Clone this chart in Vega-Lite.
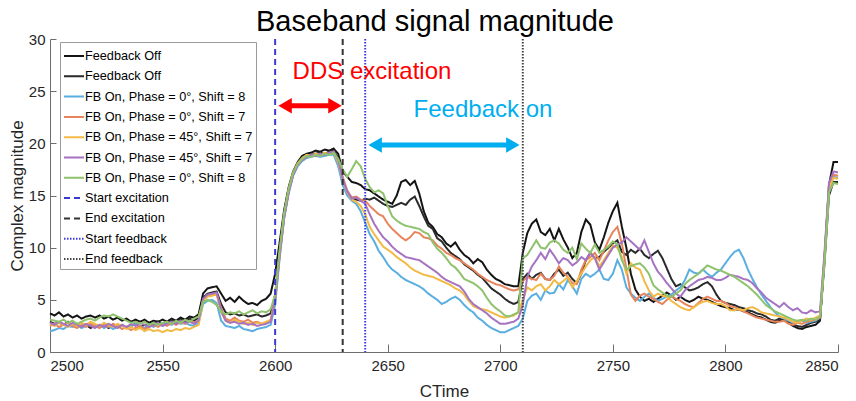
{
  "$schema": "https://vega.github.io/schema/vega-lite/v6.json",
  "width": 788,
  "height": 313,
  "autosize": {"type": "none"},
  "padding": {"left": 50, "top": 39, "right": 18, "bottom": 49},
  "background": "white",
  "title": {"text": "Baseband signal magnitude", "font": "Liberation Sans", "fontSize": 29, "fontWeight": "normal", "color": "#000000", "offset": -5, "dx": -9},
  "config": {
    "view": {"stroke": null},
    "axis": {"grid": false, "labelFont": "Liberation Sans", "titleFont": "Liberation Sans", "labelFontSize": 15, "titleFontSize": 17, "titleFontWeight": "normal", "labelColor": "#262626", "titleColor": "#262626", "domainColor": "#6e6e6e", "tickColor": "#6e6e6e"}
  },
  "datasets": {
    "names": [
      {"key": "k1", "series": "Feedback Off #1"},
      {"key": "k2", "series": "Feedback Off #2"},
      {"key": "b", "series": "FB On, Phase = 0°, Shift = 8 #1"},
      {"key": "o", "series": "FB On, Phase = 0°, Shift = 7"},
      {"key": "y", "series": "FB On, Phase = 45°, Shift = 7 #1"},
      {"key": "p", "series": "FB On, Phase = 45°, Shift = 7 #2"},
      {"key": "g", "series": "FB On, Phase = 0°, Shift = 8 #2"}
    ],
    "markers": [
      {"t": 2600, "series": "Start excitation"},
      {"t": 2630, "series": "End excitation"},
      {"t": 2640, "series": "Start feedback"},
      {"t": 2710, "series": "End feedback"}
    ],
    "curves": [
      {"t":2500,"k1":3.7,"k2":2.9,"b":2.0,"o":2.5,"y":2.7,"p":2.8,"g":3.1},
      {"t":2502,"k1":3.5,"k2":2.7,"b":2.1,"o":2.7,"y":2.5,"p":2.6,"g":3.0},
      {"t":2504,"k1":3.8,"k2":2.8,"b":2.3,"o":2.4,"y":2.8,"p":2.9,"g":2.9},
      {"t":2506,"k1":3.4,"k2":2.6,"b":2.2,"o":2.6,"y":2.6,"p":2.7,"g":3.1},
      {"t":2508,"k1":3.6,"k2":2.9,"b":2.5,"o":2.8,"y":2.4,"p":2.5,"g":2.8},
      {"t":2510,"k1":3.3,"k2":2.5,"b":2.4,"o":2.5,"y":2.7,"p":2.8,"g":3.0},
      {"t":2512,"k1":3.5,"k2":2.7,"b":2.6,"o":2.3,"y":2.5,"p":2.6,"g":2.7},
      {"t":2514,"k1":3.2,"k2":2.4,"b":2.3,"o":2.6,"y":2.8,"p":2.4,"g":2.9},
      {"t":2516,"k1":3.4,"k2":2.6,"b":2.5,"o":2.4,"y":2.6,"p":2.7,"g":3.1},
      {"t":2518,"k1":3.5,"k2":2.3,"b":2.7,"o":2.7,"y":2.9,"p":2.5,"g":3.2},
      {"t":2520,"k1":3.3,"k2":2.5,"b":2.4,"o":2.5,"y":2.7,"p":2.3,"g":3.0},
      {"t":2522,"k1":3.5,"k2":2.4,"b":2.6,"o":2.3,"y":2.5,"p":2.6,"g":3.3},
      {"t":2524,"k1":3.2,"k2":2.6,"b":2.3,"o":2.6,"y":2.8,"p":2.4,"g":3.5},
      {"t":2526,"k1":3.4,"k2":2.3,"b":2.5,"o":2.4,"y":2.6,"p":2.7,"g":3.4},
      {"t":2528,"k1":3.1,"k2":2.5,"b":2.2,"o":2.7,"y":2.4,"p":2.5,"g":3.6},
      {"t":2530,"k1":3.3,"k2":2.4,"b":2.4,"o":2.5,"y":2.7,"p":2.3,"g":3.4},
      {"t":2532,"k1":3.0,"k2":2.6,"b":2.6,"o":2.2,"y":2.5,"p":2.6,"g":3.2},
      {"t":2534,"k1":3.2,"k2":2.3,"b":2.3,"o":2.4,"y":2.2,"p":2.4,"g":3.0},
      {"t":2536,"k1":2.9,"k2":2.5,"b":2.5,"o":2.1,"y":2.4,"p":2.7,"g":2.8},
      {"t":2538,"k1":3.1,"k2":2.7,"b":2.7,"o":2.3,"y":2.1,"p":2.5,"g":2.9},
      {"t":2540,"k1":2.9,"k2":2.4,"b":2.5,"o":2.5,"y":2.3,"p":2.8,"g":2.7},
      {"t":2542,"k1":3.1,"k2":2.6,"b":2.3,"o":2.2,"y":2.0,"p":2.6,"g":2.9},
      {"t":2544,"k1":2.8,"k2":2.5,"b":2.6,"o":2.4,"y":2.2,"p":2.4,"g":2.6},
      {"t":2546,"k1":3.0,"k2":2.7,"b":2.4,"o":2.6,"y":2.0,"p":2.6,"g":2.8},
      {"t":2548,"k1":2.9,"k2":2.9,"b":2.7,"o":2.4,"y":2.1,"p":2.8,"g":2.6},
      {"t":2550,"k1":3.1,"k2":2.6,"b":2.5,"o":2.7,"y":1.9,"p":2.5,"g":2.8},
      {"t":2552,"k1":2.9,"k2":2.8,"b":2.8,"o":2.5,"y":2.1,"p":2.7,"g":2.9},
      {"t":2554,"k1":3.2,"k2":3.0,"b":2.6,"o":2.8,"y":2.0,"p":2.9,"g":2.7},
      {"t":2556,"k1":3.0,"k2":2.8,"b":2.9,"o":2.6,"y":2.2,"p":2.7,"g":3.0},
      {"t":2558,"k1":3.3,"k2":3.1,"b":2.7,"o":2.9,"y":2.1,"p":3.0,"g":2.8},
      {"t":2560,"k1":3.1,"k2":2.9,"b":2.8,"o":2.7,"y":2.3,"p":2.8,"g":3.1},
      {"t":2562,"k1":3.4,"k2":3.2,"b":2.6,"o":3.0,"y":2.2,"p":2.9,"g":2.9},
      {"t":2564,"k1":3.3,"k2":3.0,"b":2.5,"o":2.8,"y":2.4,"p":2.7,"g":3.2},
      {"t":2566,"k1":3.6,"k2":3.3,"b":2.8,"o":3.0,"y":2.6,"p":3.0,"g":3.4},
      {"t":2568,"k1":5.6,"k2":5.2,"b":4.6,"o":5.0,"y":4.9,"p":5.1,"g":4.8},
      {"t":2570,"k1":6.1,"k2":5.6,"b":4.9,"o":5.4,"y":5.3,"p":5.5,"g":5.0},
      {"t":2572,"k1":6.2,"k2":5.7,"b":5.0,"o":5.5,"y":5.4,"p":5.6,"g":4.8},
      {"t":2574,"k1":6.3,"k2":5.8,"b":4.7,"o":5.6,"y":5.5,"p":5.7,"g":4.5},
      {"t":2576,"k1":5.6,"k2":4.6,"b":3.0,"o":4.2,"y":3.8,"p":4.0,"g":3.9},
      {"t":2578,"k1":4.9,"k2":3.8,"b":2.5,"o":3.2,"y":3.0,"p":3.0,"g":3.6},
      {"t":2580,"k1":5.2,"k2":3.6,"b":2.4,"o":3.0,"y":2.8,"p":2.8,"g":3.8},
      {"t":2582,"k1":4.8,"k2":3.7,"b":2.3,"o":3.3,"y":3.1,"p":2.9,"g":3.7},
      {"t":2584,"k1":5.3,"k2":3.5,"b":2.5,"o":3.0,"y":2.9,"p":2.7,"g":3.9},
      {"t":2586,"k1":4.9,"k2":3.6,"b":2.2,"o":2.9,"y":2.7,"p":2.8,"g":3.6},
      {"t":2588,"k1":4.6,"k2":3.4,"b":2.1,"o":3.1,"y":2.8,"p":2.6,"g":3.8},
      {"t":2590,"k1":4.7,"k2":3.5,"b":2.0,"o":2.8,"y":2.6,"p":2.7,"g":4.0},
      {"t":2592,"k1":4.5,"k2":3.6,"b":2.2,"o":2.9,"y":2.8,"p":2.5,"g":3.7},
      {"t":2594,"k1":4.9,"k2":3.4,"b":2.3,"o":2.7,"y":2.7,"p":2.6,"g":3.9},
      {"t":2596,"k1":5.1,"k2":3.5,"b":2.4,"o":2.8,"y":2.9,"p":2.7,"g":3.8},
      {"t":2598,"k1":5.6,"k2":3.7,"b":2.6,"o":3.0,"y":3.1,"p":2.9,"g":4.1},
      {"t":2600,"k1":7.5,"k2":5.5,"b":4.5,"o":5.0,"y":5.0,"p":5.0,"g":5.5},
      {"t":2602,"k1":10.5,"k2":9.5,"b":9.0,"o":9.3,"y":9.5,"p":9.2,"g":9.8},
      {"t":2604,"k1":13.6,"k2":13.0,"b":12.8,"o":13.0,"y":13.2,"p":12.9,"g":13.3},
      {"t":2606,"k1":15.8,"k2":15.4,"b":15.2,"o":15.4,"y":15.6,"p":15.3,"g":15.6},
      {"t":2608,"k1":17.3,"k2":17.0,"b":16.9,"o":17.1,"y":17.2,"p":17.0,"g":17.2},
      {"t":2610,"k1":18.2,"k2":18.0,"b":17.8,"o":18.0,"y":18.1,"p":17.9,"g":18.0},
      {"t":2612,"k1":18.8,"k2":18.5,"b":18.3,"o":18.5,"y":18.6,"p":18.4,"g":18.5},
      {"t":2614,"k1":19.0,"k2":18.8,"b":18.6,"o":18.7,"y":18.9,"p":18.7,"g":18.8},
      {"t":2616,"k1":19.1,"k2":18.9,"b":18.7,"o":18.9,"y":18.8,"p":18.9,"g":18.7},
      {"t":2618,"k1":19.3,"k2":19.0,"b":18.8,"o":18.8,"y":19.0,"p":18.8,"g":18.9},
      {"t":2620,"k1":19.2,"k2":19.1,"b":18.7,"o":19.0,"y":18.9,"p":19.0,"g":18.8},
      {"t":2622,"k1":19.4,"k2":19.0,"b":18.8,"o":18.9,"y":19.1,"p":18.9,"g":19.0},
      {"t":2624,"k1":19.3,"k2":19.2,"b":18.9,"o":19.1,"y":19.0,"p":19.1,"g":18.9},
      {"t":2626,"k1":19.5,"k2":19.3,"b":18.9,"o":19.2,"y":19.1,"p":19.2,"g":19.1},
      {"t":2628,"k1":19.0,"k2":18.6,"b":17.8,"o":18.3,"y":18.2,"p":18.4,"g":18.5},
      {"t":2630,"k1":17.3,"k2":16.5,"b":16.0,"o":16.8,"y":16.5,"p":16.6,"g":17.5},
      {"t":2632,"k1":16.8,"k2":15.2,"b":15.0,"o":15.5,"y":15.3,"p":15.4,"g":16.8},
      {"t":2634,"k1":16.3,"k2":14.8,"b":14.5,"o":14.8,"y":14.6,"p":14.7,"g":17.5},
      {"t":2636,"k1":16.2,"k2":14.6,"b":14.2,"o":14.9,"y":14.4,"p":14.8,"g":18.3},
      {"t":2638,"k1":16.0,"k2":14.5,"b":13.5,"o":14.6,"y":14.0,"p":14.5,"g":17.8},
      {"t":2640,"k1":15.6,"k2":14.7,"b":12.4,"o":14.5,"y":13.2,"p":14.2,"g":16.6},
      {"t":2642,"k1":15.5,"k2":14.6,"b":11.3,"o":14.0,"y":12.0,"p":13.2,"g":15.8},
      {"t":2644,"k1":15.2,"k2":14.8,"b":10.6,"o":13.6,"y":11.3,"p":12.3,"g":15.3},
      {"t":2646,"k1":14.9,"k2":14.5,"b":9.7,"o":13.2,"y":10.7,"p":11.6,"g":15.5},
      {"t":2648,"k1":14.6,"k2":14.2,"b":9.1,"o":13.0,"y":10.1,"p":11.0,"g":15.2},
      {"t":2650,"k1":14.4,"k2":14.0,"b":8.4,"o":12.3,"y":9.8,"p":10.6,"g":14.0},
      {"t":2652,"k1":14.2,"k2":13.9,"b":7.9,"o":11.8,"y":9.5,"p":10.1,"g":13.0},
      {"t":2654,"k1":15.0,"k2":14.1,"b":7.6,"o":11.4,"y":9.1,"p":9.7,"g":12.6},
      {"t":2656,"k1":16.3,"k2":14.3,"b":7.2,"o":11.0,"y":8.8,"p":9.4,"g":12.3},
      {"t":2658,"k1":16.5,"k2":14.1,"b":6.9,"o":10.7,"y":8.5,"p":9.1,"g":12.1},
      {"t":2660,"k1":16.0,"k2":14.6,"b":6.7,"o":11.0,"y":8.1,"p":9.0,"g":12.0},
      {"t":2662,"k1":16.4,"k2":14.9,"b":6.5,"o":11.5,"y":7.8,"p":8.9,"g":11.9},
      {"t":2664,"k1":15.2,"k2":14.0,"b":6.3,"o":11.4,"y":7.6,"p":8.8,"g":11.8},
      {"t":2666,"k1":13.5,"k2":13.0,"b":6.0,"o":11.0,"y":7.4,"p":8.5,"g":11.5},
      {"t":2668,"k1":12.4,"k2":12.1,"b":5.6,"o":10.9,"y":7.3,"p":8.2,"g":11.3},
      {"t":2670,"k1":12.0,"k2":11.8,"b":5.3,"o":10.7,"y":7.2,"p":7.9,"g":10.5},
      {"t":2672,"k1":11.3,"k2":10.9,"b":5.0,"o":10.2,"y":7.0,"p":7.6,"g":9.9},
      {"t":2674,"k1":11.0,"k2":10.6,"b":4.6,"o":9.9,"y":6.8,"p":7.2,"g":9.5},
      {"t":2676,"k1":10.4,"k2":10.0,"b":4.8,"o":9.5,"y":6.6,"p":6.9,"g":9.0},
      {"t":2678,"k1":10.1,"k2":9.5,"b":5.1,"o":9.3,"y":6.4,"p":6.7,"g":8.4},
      {"t":2680,"k1":10.5,"k2":9.2,"b":5.3,"o":9.0,"y":6.1,"p":6.5,"g":8.1},
      {"t":2682,"k1":9.8,"k2":8.9,"b":5.0,"o":8.8,"y":5.9,"p":6.3,"g":7.6},
      {"t":2684,"k1":9.3,"k2":8.4,"b":4.5,"o":8.5,"y":5.5,"p":5.8,"g":7.0},
      {"t":2686,"k1":9.0,"k2":8.1,"b":4.1,"o":8.2,"y":4.9,"p":5.1,"g":6.8},
      {"t":2688,"k1":8.5,"k2":7.8,"b":3.8,"o":7.9,"y":4.4,"p":4.6,"g":6.6},
      {"t":2690,"k1":8.9,"k2":7.4,"b":3.3,"o":7.5,"y":4.2,"p":4.3,"g":6.3},
      {"t":2692,"k1":8.6,"k2":7.1,"b":3.0,"o":7.2,"y":4.1,"p":4.0,"g":5.9},
      {"t":2694,"k1":7.9,"k2":6.6,"b":2.6,"o":6.9,"y":4.0,"p":3.7,"g":5.2},
      {"t":2696,"k1":7.4,"k2":6.1,"b":2.3,"o":6.7,"y":3.8,"p":3.3,"g":4.6},
      {"t":2698,"k1":7.0,"k2":5.8,"b":2.1,"o":6.5,"y":3.6,"p":3.0,"g":4.2},
      {"t":2700,"k1":6.8,"k2":5.5,"b":1.9,"o":6.4,"y":3.4,"p":2.7,"g":3.9},
      {"t":2702,"k1":6.5,"k2":5.1,"b":1.9,"o":6.2,"y":3.3,"p":2.7,"g":3.5},
      {"t":2704,"k1":6.4,"k2":4.8,"b":2.1,"o":6.0,"y":3.4,"p":2.8,"g":3.4},
      {"t":2706,"k1":6.3,"k2":4.6,"b":2.3,"o":5.9,"y":3.5,"p":2.9,"g":3.6},
      {"t":2708,"k1":6.3,"k2":4.8,"b":2.5,"o":6.0,"y":3.8,"p":3.2,"g":3.8},
      {"t":2710,"k1":9.5,"k2":7.0,"b":3.2,"o":6.8,"y":5.0,"p":4.5,"g":9.0},
      {"t":2712,"k1":11.4,"k2":7.5,"b":4.9,"o":7.2,"y":6.2,"p":7.2,"g":9.3},
      {"t":2714,"k1":12.3,"k2":7.0,"b":5.4,"o":7.0,"y":5.9,"p":8.2,"g":10.0},
      {"t":2716,"k1":12.7,"k2":7.4,"b":5.6,"o":6.9,"y":6.3,"p":8.8,"g":10.7},
      {"t":2718,"k1":11.5,"k2":7.6,"b":5.0,"o":7.5,"y":6.5,"p":9.5,"g":10.0},
      {"t":2720,"k1":11.2,"k2":7.0,"b":5.9,"o":7.0,"y":5.9,"p":8.9,"g":9.9},
      {"t":2722,"k1":11.8,"k2":6.9,"b":5.6,"o":6.9,"y":6.3,"p":9.8,"g":10.5},
      {"t":2724,"k1":10.7,"k2":7.5,"b":5.7,"o":7.3,"y":6.9,"p":9.2,"g":10.7},
      {"t":2726,"k1":11.8,"k2":7.9,"b":6.5,"o":8.2,"y":6.5,"p":8.5,"g":10.4},
      {"t":2728,"k1":10.8,"k2":7.3,"b":6.0,"o":7.6,"y":6.8,"p":9.0,"g":9.8},
      {"t":2730,"k1":10.0,"k2":7.6,"b":6.9,"o":7.2,"y":7.2,"p":8.8,"g":9.5},
      {"t":2732,"k1":9.0,"k2":7.0,"b":6.3,"o":6.6,"y":6.2,"p":8.3,"g":10.0},
      {"t":2734,"k1":9.5,"k2":6.6,"b":5.6,"o":6.5,"y":6.8,"p":8.6,"g":8.9},
      {"t":2736,"k1":11.5,"k2":7.5,"b":7.0,"o":7.9,"y":7.5,"p":9.1,"g":10.4},
      {"t":2738,"k1":12.7,"k2":8.8,"b":7.5,"o":8.8,"y":8.2,"p":8.8,"g":9.9},
      {"t":2740,"k1":12.2,"k2":9.5,"b":7.2,"o":9.1,"y":8.8,"p":9.5,"g":9.5},
      {"t":2742,"k1":10.5,"k2":9.0,"b":7.5,"o":9.5,"y":9.1,"p":9.0,"g":10.3},
      {"t":2744,"k1":9.8,"k2":9.1,"b":7.9,"o":8.8,"y":8.2,"p":7.9,"g":9.5},
      {"t":2746,"k1":11.0,"k2":9.6,"b":7.0,"o":9.7,"y":8.8,"p":8.6,"g":9.8},
      {"t":2748,"k1":12.4,"k2":10.0,"b":6.9,"o":10.7,"y":9.5,"p":9.3,"g":10.1},
      {"t":2750,"k1":13.5,"k2":10.4,"b":7.5,"o":11.5,"y":10.2,"p":10.0,"g":10.6},
      {"t":2752,"k1":14.3,"k2":10.7,"b":8.8,"o":12.0,"y":10.0,"p":10.3,"g":10.3},
      {"t":2754,"k1":12.0,"k2":9.6,"b":7.9,"o":10.4,"y":9.1,"p":10.5,"g":8.8},
      {"t":2756,"k1":10.0,"k2":9.3,"b":6.2,"o":8.0,"y":7.5,"p":11.0,"g":7.9},
      {"t":2758,"k1":7.5,"k2":9.8,"b":5.6,"o":5.5,"y":8.5,"p":10.6,"g":8.2},
      {"t":2760,"k1":6.0,"k2":9.5,"b":5.2,"o":4.9,"y":8.1,"p":10.2,"g":8.4},
      {"t":2762,"k1":5.3,"k2":9.9,"b":4.9,"o":5.4,"y":7.9,"p":9.8,"g":8.5},
      {"t":2764,"k1":4.9,"k2":9.3,"b":5.3,"o":5.6,"y":6.8,"p":10.7,"g":8.1},
      {"t":2766,"k1":5.1,"k2":9.0,"b":5.6,"o":5.3,"y":5.9,"p":9.6,"g":7.5},
      {"t":2768,"k1":4.8,"k2":9.4,"b":5.2,"o":5.1,"y":5.3,"p":8.5,"g":6.4},
      {"t":2770,"k1":5.1,"k2":9.7,"b":4.9,"o":4.8,"y":5.6,"p":7.7,"g":6.0},
      {"t":2772,"k1":5.4,"k2":9.0,"b":5.1,"o":4.6,"y":5.4,"p":7.2,"g":5.7},
      {"t":2774,"k1":5.7,"k2":8.0,"b":5.3,"o":5.0,"y":5.3,"p":6.6,"g":5.4},
      {"t":2776,"k1":5.4,"k2":7.0,"b":5.5,"o":5.3,"y":4.9,"p":6.1,"g":5.3},
      {"t":2778,"k1":5.0,"k2":6.3,"b":5.9,"o":5.1,"y":4.6,"p":5.6,"g":5.6},
      {"t":2780,"k1":5.3,"k2":6.5,"b":6.2,"o":4.9,"y":4.3,"p":5.3,"g":5.9},
      {"t":2782,"k1":5.0,"k2":6.2,"b":6.9,"o":4.6,"y":4.1,"p":5.9,"g":6.5},
      {"t":2784,"k1":4.8,"k2":5.9,"b":7.9,"o":4.4,"y":4.0,"p":6.3,"g":6.9},
      {"t":2786,"k1":5.0,"k2":6.0,"b":7.6,"o":4.3,"y":4.3,"p":6.6,"g":7.2},
      {"t":2788,"k1":5.3,"k2":6.2,"b":7.5,"o":4.7,"y":4.6,"p":6.9,"g":7.5},
      {"t":2790,"k1":5.1,"k2":6.5,"b":7.9,"o":5.1,"y":4.8,"p":7.0,"g":7.9},
      {"t":2792,"k1":5.0,"k2":6.7,"b":7.5,"o":5.3,"y":4.9,"p":7.2,"g":8.3},
      {"t":2794,"k1":4.8,"k2":6.3,"b":7.2,"o":5.1,"y":4.7,"p":7.1,"g":8.1},
      {"t":2796,"k1":4.6,"k2":5.5,"b":7.6,"o":4.9,"y":4.6,"p":6.9,"g":7.9},
      {"t":2798,"k1":4.4,"k2":4.9,"b":7.9,"o":4.9,"y":4.6,"p":6.9,"g":7.8},
      {"t":2800,"k1":4.3,"k2":4.7,"b":8.5,"o":4.7,"y":4.4,"p":7.1,"g":7.6},
      {"t":2802,"k1":4.2,"k2":4.6,"b":9.1,"o":4.4,"y":4.0,"p":7.4,"g":7.4},
      {"t":2804,"k1":4.0,"k2":4.5,"b":9.6,"o":4.3,"y":4.0,"p":7.3,"g":7.2},
      {"t":2806,"k1":4.1,"k2":4.3,"b":9.8,"o":4.1,"y":4.1,"p":7.2,"g":6.9},
      {"t":2808,"k1":3.9,"k2":4.2,"b":9.0,"o":3.9,"y":4.0,"p":7.0,"g":6.6},
      {"t":2810,"k1":3.8,"k2":4.0,"b":7.9,"o":3.7,"y":4.2,"p":6.9,"g":6.3},
      {"t":2812,"k1":3.6,"k2":3.9,"b":7.0,"o":3.5,"y":4.3,"p":6.6,"g":5.9},
      {"t":2814,"k1":3.4,"k2":3.7,"b":6.2,"o":3.3,"y":4.1,"p":6.1,"g":5.5},
      {"t":2816,"k1":3.3,"k2":3.6,"b":5.5,"o":3.2,"y":3.8,"p":5.7,"g":5.0},
      {"t":2818,"k1":3.1,"k2":3.4,"b":4.9,"o":3.1,"y":3.7,"p":5.2,"g":4.5},
      {"t":2820,"k1":2.9,"k2":3.1,"b":4.3,"o":3.0,"y":3.6,"p":4.9,"g":4.2},
      {"t":2822,"k1":2.8,"k2":3.0,"b":3.8,"o":2.9,"y":3.5,"p":4.6,"g":3.9},
      {"t":2824,"k1":3.0,"k2":3.2,"b":3.4,"o":2.9,"y":3.4,"p":4.3,"g":3.7},
      {"t":2826,"k1":3.2,"k2":3.0,"b":3.2,"o":3.0,"y":3.3,"p":4.7,"g":3.5},
      {"t":2828,"k1":2.8,"k2":2.9,"b":3.0,"o":2.7,"y":3.1,"p":4.3,"g":3.3},
      {"t":2830,"k1":2.5,"k2":2.6,"b":2.8,"o":2.6,"y":2.9,"p":4.0,"g":3.1},
      {"t":2832,"k1":2.3,"k2":2.5,"b":2.9,"o":2.8,"y":2.8,"p":4.2,"g":3.0},
      {"t":2834,"k1":2.2,"k2":2.4,"b":3.0,"o":2.7,"y":3.0,"p":3.8,"g":3.1},
      {"t":2836,"k1":2.4,"k2":2.6,"b":2.8,"o":2.9,"y":3.2,"p":3.7,"g":3.0},
      {"t":2838,"k1":2.5,"k2":2.8,"b":2.9,"o":3.0,"y":3.1,"p":4.0,"g":3.2},
      {"t":2840,"k1":2.6,"k2":2.9,"b":3.0,"o":3.1,"y":3.3,"p":3.8,"g":3.1},
      {"t":2842,"k1":3.0,"k2":3.1,"b":3.3,"o":3.3,"y":3.5,"p":3.9,"g":3.4},
      {"t":2844,"k1":9.0,"k2":8.5,"b":8.8,"o":9.0,"y":9.1,"p":9.5,"g":8.7},
      {"t":2846,"k1":16.0,"k2":15.0,"b":15.5,"o":15.8,"y":15.7,"p":16.2,"g":15.3},
      {"t":2848,"k1":18.2,"k2":16.3,"b":16.8,"o":17.0,"y":16.7,"p":17.3,"g":16.2},
      {"t":2850,"k1":18.2,"k2":16.3,"b":16.7,"o":16.9,"y":16.6,"p":17.2,"g":16.1}
    ]
  },
  "layer": [
    {
      "data": {"name": "curves"},
      "transform": [
        {"fold": ["k1", "k2", "b", "o", "y", "p", "g"], "as": ["key", "value"]},
        {"lookup": "key", "from": {"data": {"name": "names"}, "key": "key", "fields": ["series"]}}
      ],
      "mark": {"type": "line", "interpolate": "linear"},
      "encoding": {
        "x": {"field": "t", "type": "quantitative", "scale": {"domain": [2500, 2850], "nice": false, "zero": false},
              "axis": {"title": "CTime", "format": "d", "values": [2500, 2550, 2600, 2650, 2700, 2750, 2800, 2850], "tickSize": -8, "labelPadding": 14, "titlePadding": 10}},
        "y": {"field": "value", "type": "quantitative", "scale": {"domain": [0, 30], "nice": false},
              "axis": {"title": "Complex magnitude", "values": [0, 5, 10, 15, 20, 25, 30], "tickSize": -6, "labelPadding": 11, "titlePadding": 2}},
        "color": {"field": "series", "type": "nominal",
          "scale": {
            "domain": ["Feedback Off #1", "Feedback Off #2", "FB On, Phase = 0°, Shift = 8 #1", "FB On, Phase = 0°, Shift = 7", "FB On, Phase = 45°, Shift = 7 #1", "FB On, Phase = 45°, Shift = 7 #2", "FB On, Phase = 0°, Shift = 8 #2", "Start excitation", "End excitation", "Start feedback", "End feedback"],
            "range": ["#141414", "#2a2a2a", "#5aaee0", "#e8845c", "#f2ba45", "#a673c2", "#8fc26c", "#3a3ad0", "#333333", "#3c3ce0", "#444444"]
          },
          "legend": {"title": null, "orient": "none", "legendX": 10, "legendY": 3, "labelExpr": "split(datum.label, ' #')[0]", "labelLimit": 0, "symbolType": "stroke", "symbolSize": 400, "symbolStrokeWidth": 1.5, "labelFont": "Liberation Sans", "labelFontSize": 12.7, "labelColor": "#000000", "rowPadding": 2.3, "padding": 3, "strokeColor": "#9a9a9a", "fillColor": "#ffffff", "labelOffset": 0,
            "encode": {"symbols": {"update": {"strokeWidth": {"signal": "scale('strokeWidth', datum.value)"}}}}}
        },
        "strokeDash": {"field": "series", "type": "nominal",
          "scale": {
            "domain": ["Feedback Off #1", "Feedback Off #2", "FB On, Phase = 0°, Shift = 8 #1", "FB On, Phase = 0°, Shift = 7", "FB On, Phase = 45°, Shift = 7 #1", "FB On, Phase = 45°, Shift = 7 #2", "FB On, Phase = 0°, Shift = 8 #2", "Start excitation", "End excitation", "Start feedback", "End feedback"],
            "range": [[1, 0], [1, 0], [1, 0], [1, 0], [1, 0], [1, 0], [1, 0], [6, 4], [6, 4], [1.5, 1.5], [1.5, 1.5]]
          }
        },
        "strokeWidth": {"field": "series", "type": "nominal", "legend": null,
          "scale": {
            "domain": ["Feedback Off #1", "Feedback Off #2", "FB On, Phase = 0°, Shift = 8 #1", "FB On, Phase = 0°, Shift = 7", "FB On, Phase = 45°, Shift = 7 #1", "FB On, Phase = 45°, Shift = 7 #2", "FB On, Phase = 0°, Shift = 8 #2", "Start excitation", "End excitation", "Start feedback", "End feedback"],
            "range": [2, 2, 1.2, 1.2, 1.2, 1.2, 1.2, 1.5, 2, 1, 1.3]
          }
        }
      }
    },
    {
      "data": {"name": "markers"},
      "mark": {"type": "rule"},
      "encoding": {
        "x": {"field": "t", "type": "quantitative"},
        "color": {"field": "series", "type": "nominal"},
        "strokeDash": {"field": "series", "type": "nominal"},
        "strokeWidth": {"field": "series", "type": "nominal", "legend": null}
      }
    },
    {
      "data": {"values": [{"from": 2601, "to": 2630, "level": 23.6}]},
      "layer": [
        {"mark": {"type": "rule", "color": "#ff0000", "strokeWidth": 5, "xOffset": 8, "x2Offset": -8}, "encoding": {"x": {"field": "from", "type": "quantitative"}, "x2": {"field": "to"}, "y": {"field": "level", "type": "quantitative"}}},
        {"mark": {"type": "point", "shape": "triangle-left", "filled": true, "opacity": 1, "size": 240, "color": "#ff0000", "xOffset": 7.7}, "encoding": {"x": {"field": "from", "type": "quantitative"}, "y": {"field": "level", "type": "quantitative"}}},
        {"mark": {"type": "point", "shape": "triangle-right", "filled": true, "opacity": 1, "size": 240, "color": "#ff0000", "xOffset": -7.7}, "encoding": {"x": {"field": "to", "type": "quantitative"}, "y": {"field": "level", "type": "quantitative"}}}
      ]
    },
    {
      "data": {"values": [{"from": 2641, "to": 2709, "level": 19.85}]},
      "layer": [
        {"mark": {"type": "rule", "color": "#00aeef", "strokeWidth": 5, "xOffset": 8, "x2Offset": -8}, "encoding": {"x": {"field": "from", "type": "quantitative"}, "x2": {"field": "to"}, "y": {"field": "level", "type": "quantitative"}}},
        {"mark": {"type": "point", "shape": "triangle-left", "filled": true, "opacity": 1, "size": 240, "color": "#00aeef", "xOffset": 7.7}, "encoding": {"x": {"field": "from", "type": "quantitative"}, "y": {"field": "level", "type": "quantitative"}}},
        {"mark": {"type": "point", "shape": "triangle-right", "filled": true, "opacity": 1, "size": 240, "color": "#00aeef", "xOffset": -7.7}, "encoding": {"x": {"field": "to", "type": "quantitative"}, "y": {"field": "level", "type": "quantitative"}}}
      ]
    },
    {
      "data": {"values": [{"note": "DDS excitation", "t": 2643, "v": 26.85}]},
      "mark": {"type": "text", "font": "Liberation Sans", "fontSize": 24, "color": "#ff0000", "align": "center", "baseline": "middle"},
      "encoding": {"x": {"field": "t", "type": "quantitative"}, "y": {"field": "v", "type": "quantitative"}, "text": {"field": "note"}}
    },
    {
      "data": {"values": [{"note": "Feedback on", "t": 2692.3, "v": 23.2}]},
      "mark": {"type": "text", "font": "Liberation Sans", "fontSize": 24, "color": "#00aeef", "align": "center", "baseline": "middle"},
      "encoding": {"x": {"field": "t", "type": "quantitative"}, "y": {"field": "v", "type": "quantitative"}, "text": {"field": "note"}}
    }
  ]
}
